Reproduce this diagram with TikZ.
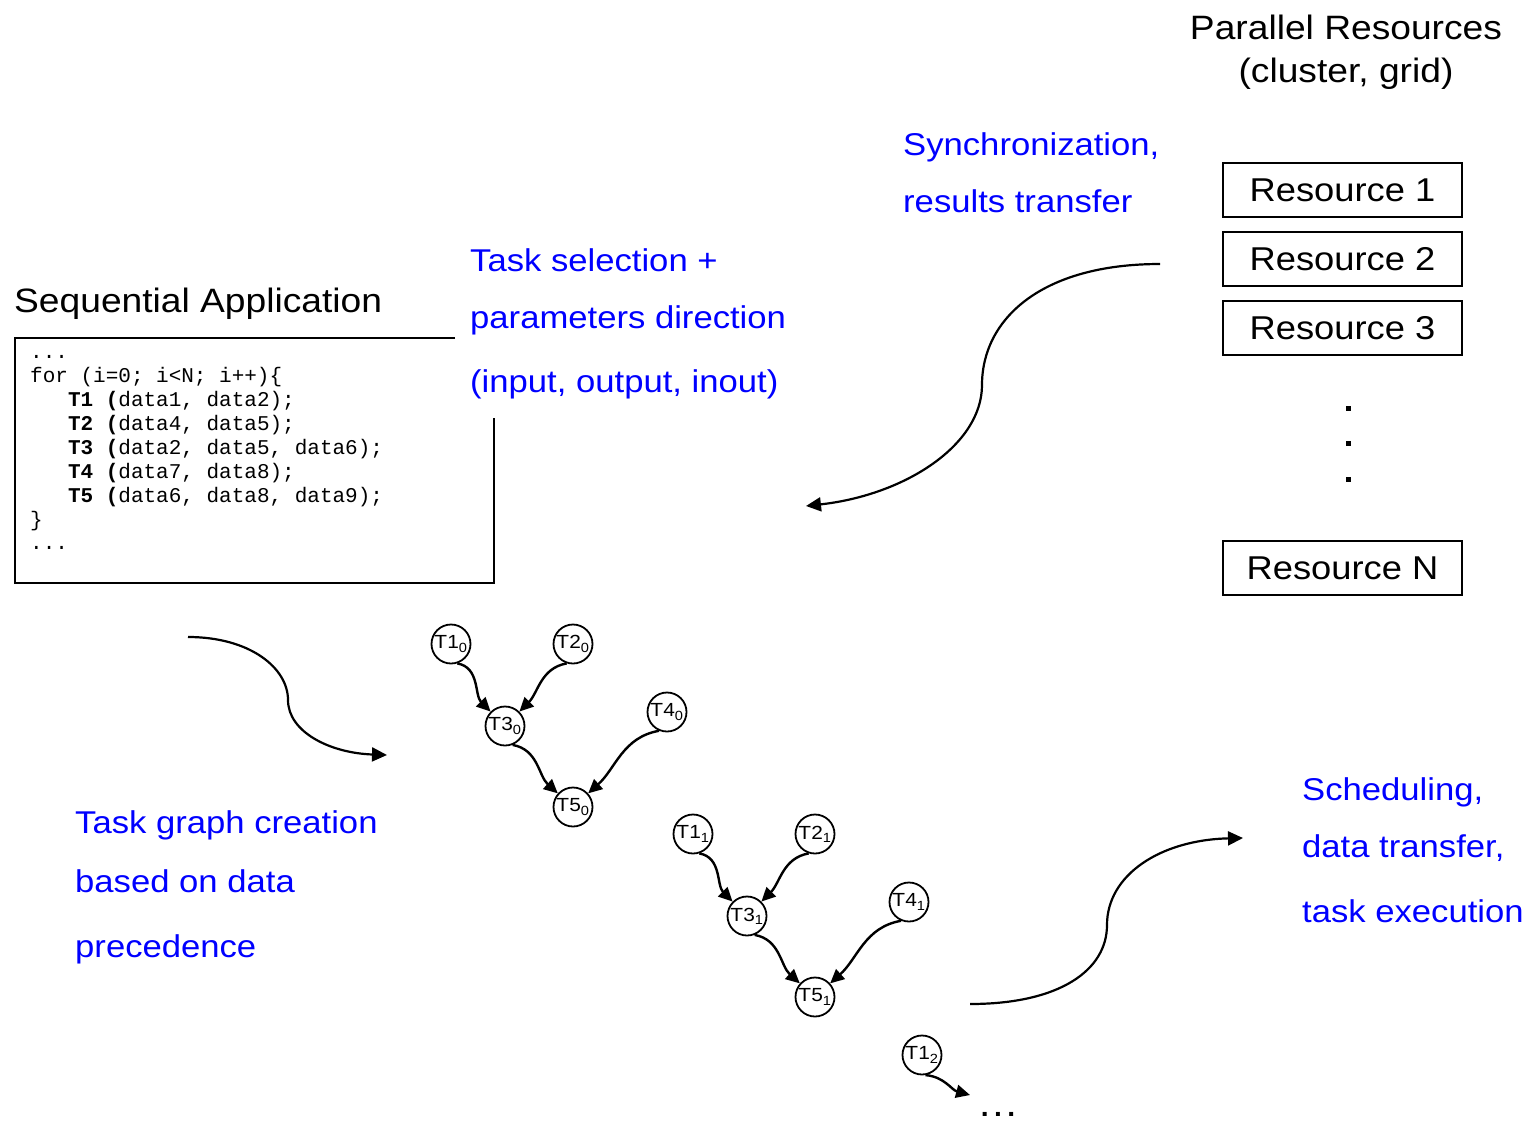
\documentclass[tikz,border=0pt]{standalone}
\usepackage{fontspec}
\setmainfont{Liberation Sans}
\newfontfamily\arw{Liberation Sans}[FakeStretch=1.1]
\newfontfamily\cour{Liberation Mono}
\usetikzlibrary{arrows.meta}
\definecolor{pblue}{RGB}{0,0,255}
\tikzset{
  blk/.style={font=\arw\fontsize{33.8}{38}\selectfont, inner sep=0pt, anchor=base},
  blu/.style={font=\arw\fontsize{31.5}{36}\selectfont, text=pblue, inner sep=0pt, anchor=base west},
  res/.style={draw, line width=1.5pt, minimum width=239pt, minimum height=54pt, inner sep=0pt,
              font=\arw\fontsize{33}{38}\selectfont},
  code/.style={font=\cour\fontsize{21}{24}\selectfont, inner sep=0pt, anchor=base west},
  task/.style={circle, draw, line width=1.8pt, minimum size=39pt, inner sep=0pt,
               font=\arw\fontsize{19}{21}\selectfont},
  dep/.style={line width=2.4pt, -{Triangle[length=14pt,width=13pt]}},
  flow/.style={line width=2.2pt, -{Triangle[length=15pt,width=14pt]}},
}
\begin{document}
\begin{tikzpicture}[x=1pt,y=1pt]
\useasboundingbox (0,0) rectangle (1527,-1125);

% Parallel resources
\node[blk] (pr1) at (1346,-39) {Parallel Resources};
\node[blk] (pr2) at (1346,-82) {(cluster, grid)};
\node[res] (r1) at (1342.5,-190) {Resource 1};
\node[res] (r2) at (1342.5,-259) {Resource 2};
\node[res] (r3) at (1342.5,-328) {Resource 3};
\node[res] (rn) at (1342.5,-568) {Resource N};
\fill (1345.5,-405.5) rectangle +(5,-5);
\fill (1345.5,-440.5) rectangle +(5,-5);
\fill (1345.5,-476.5) rectangle +(5,-5);

% blue labels
\node[blu] (l1) at (903,-155) {Synchronization,};
\node[blu] (l2) at (903,-212) {results transfer};
\node[blu] (l3) at (470,-271) {Task selection +};
\node[blu] (l4) at (470,-328) {parameters direction};
\node[blu] (l5) at (470,-392) {(input, output, inout)};
\node[blu] (l6) at (75,-833) {Task graph creation};
\node[blu] (l7) at (75,-892) {based on data};
\node[blu] (l8) at (75,-957) {precedence};
\node[blu] (l9) at (1302,-800) {Scheduling,};
\node[blu] (l10) at (1302,-857) {data transfer,};
\node[blu] (l11) at (1302,-922) {task execution};

% sequential application
\node[blk, anchor=base west] (seq) at (14,-312) {Sequential Application};
\draw[line width=2.5pt] (455,-338) -- (15,-338) -- (15,-583) -- (494,-583) -- (494,-418);
\node[code] (k1) at (30,-358) {...};
\node[code] (k2) at (30,-382) {for (i=0; i<N; i++)\{};
\node[code] (k3) at (30,-406) {\phantom{000}\textbf{T1 (}data1, data2);};
\node[code] (k4) at (30,-430) {\phantom{000}\textbf{T2 (}data4, data5);};
\node[code] (k5) at (30,-454) {\phantom{000}\textbf{T3 (}data2, data5, data6);};
\node[code] (k6) at (30,-478) {\phantom{000}\textbf{T4 (}data7, data8);};
\node[code] (k7) at (30,-502) {\phantom{000}\textbf{T5 (}data6, data8, data9);};
\node[code] (k8) at (30,-526) {\}};
\node[code] (k9) at (30,-549) {...};

% task graphs
\node[task] (a0) at (451,-644) {T1\textsubscript{0}};
\node[task] (b0) at (573,-644) {T2\textsubscript{0}};
\node[task] (c0) at (505,-726) {T3\textsubscript{0}};
\node[task] (d0) at (667,-712) {T4\textsubscript{0}};
\node[task] (e0) at (573,-807) {T5\textsubscript{0}};
\node[task] (a1) at (693,-834) {T1\textsubscript{1}};
\node[task] (b1) at (815,-834) {T2\textsubscript{1}};
\node[task] (c1) at (747,-916) {T3\textsubscript{1}};
\node[task] (d1) at (909,-902) {T4\textsubscript{1}};
\node[task] (e1) at (815,-997) {T5\textsubscript{1}};
\node[task] (a2) at (922,-1055) {T1\textsubscript{2}};
\coordinate (dend) at (970,-1095);
\node[font=\arw\fontsize{38}{40}\selectfont, inner sep=0pt, anchor=base] (dots) at (998,-1116) {\ldots};

\foreach \i in {0,1}{
  \draw[dep] (a\i.-72) to[out=-10,in=135] (c\i);
  \draw[dep] (b\i.-108) to[out=190,in=45] (c\i);
  \draw[dep] (c\i.-68) to[out=-10,in=138] (e\i);
  \draw[dep] (d\i.-113) to[out=190,in=42] (e\i);
}
\draw[dep] (a2.-80) to[out=-5,in=165] (dend);

% big flow arrows
\coordinate (f1s) at (1160,-264);
\coordinate (f1e) at (806,-506);
\draw[flow] (f1s) .. controls (1040,-264) and (982,-320) .. (982,-385)
  .. controls (982,-445) and (905,-495) .. (f1e);
\coordinate (f2s) at (188,-637);
\coordinate (f2e) at (387,-755);
\draw[flow] (f2s) .. controls (250,-637) and (288,-668) .. (288,-700)
  .. controls (288,-732) and (330,-753) .. (f2e);
\coordinate (f3s) at (970,-1004);
\coordinate (f3e) at (1243,-838);
\draw[flow] (f3s) .. controls (1060,-1004) and (1107,-970) .. (1107,-925)
  .. controls (1107,-875) and (1160,-840) .. (f3e);
\end{tikzpicture}
\end{document}
